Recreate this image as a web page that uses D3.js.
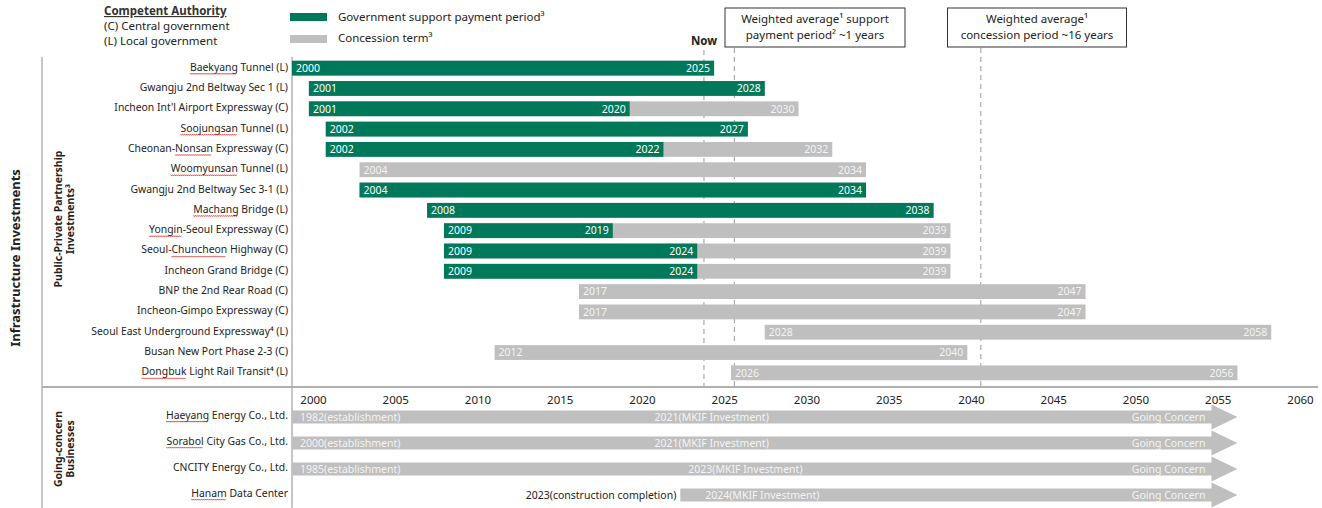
<!DOCTYPE html>
<html><head><meta charset="utf-8">
<script src="https://cdn.jsdelivr.net/npm/d3@7"></script>
<style>
html,body{margin:0;padding:0;background:#fff;}
svg{display:block;font-family:"Noto Sans",sans-serif;}
</style></head><body>
<svg id="chart" width="1322" height="508"></svg>
<script>
// ---------- data ----------
const projects = ["Baekyang Tunnel (L)", "Gwangju 2nd Beltway Sec 1 (L)", "Incheon Int'l Airport Expressway (C)",
  "Soojungsan Tunnel (L)", "Cheonan-Nonsan Expressway (C)", "Woomyunsan Tunnel (L)",
  "Gwangju 2nd Beltway Sec 3-1 (L)", "Machang Bridge (L)", "Yongin-Seoul Expressway (C)",
  "Seoul-Chuncheon Highway (C)", "Incheon Grand Bridge (C)", "BNP the 2nd Rear Road (C)",
  "Incheon-Gimpo Expressway (C)", "Seoul East Underground Expressway\u2074 (L)",
  "Busan New Port Phase 2-3 (C)", "Dongbuk Light Rail Transit\u2074 (L)"];
const startYears    = [2000, 2001, 2001, 2002, 2002, 2004, 2004, 2008, 2009, 2009, 2009, 2017, 2017, 2028, 2012, 2026];
const supportEnd    = [2025, 2028, 2020, 2027, 2022, null, 2034, 2038, 2019, 2024, 2024, null, null, null, null, null];
const concessionEnd = [2025, 2028, 2030, 2027, 2032, 2034, 2034, 2038, 2039, 2039, 2039, 2047, 2047, 2058, 2040, 2056];

const gcNames = ["Haeyang Energy Co., Ltd.", "Sorabol City Gas Co., Ltd.", "CNCITY Energy Co., Ltd.", "Hanam Data Center"];
const gcStart = [1982, 2000, 1985, 2023];
const gcStartLabels = ["1982(establishment)", "2000(establishment)", "1985(establishment)", "2023(construction completion)"];
const gcInvest = [2021, 2021, 2023, 2024];
const gcEnd = 2056;
const gcEndLabel = "Going Concern";

const tickYears = [2000, 2005, 2010, 2015, 2020, 2025, 2030, 2035, 2040, 2045, 2050, 2055, 2060];
const markerYears = [2024.4, 2026.2, 2040.8];   // Now, avg support period end, avg concession end

const spellWords = ["Baekyang", "Soojungsan", "Nonsan", "Woomyunsan", "Machang", "Yongin", "Chuncheon", "Dongbuk", "Haeyang", "Sorabol", "Hanam"];

// ---------- styles ----------
const GREEN = "#00785a", GREY = "#bfbfbf", TXT = "#222";

const svg = d3.select("#chart");

// scales
const x = d3.scaleLinear().domain([2000, 2060]).range([292, 1305]).clamp(true);
const xTick = d3.scaleLinear().domain([2000, 2060]).range([313, 1300]);
const y = d3.scaleBand().domain(projects).range([58, 383]).paddingInner(0.27).paddingOuter(0.135);
const yg = d3.scaleBand().domain(gcNames).range([404, 508]).paddingInner(0.5).paddingOuter(0.25);

// ---------- frame lines ----------
svg.append("line").attr("x1", 42).attr("x2", 42).attr("y1", 57).attr("y2", 508).attr("stroke", "#8c8c8c").attr("stroke-width", 1);
svg.append("line").attr("x1", 292).attr("x2", 292).attr("y1", 57).attr("y2", 508).attr("stroke", "#8c8c8c").attr("stroke-width", 1);
svg.append("line").attr("x1", 42).attr("x2", 1318).attr("y1", 387).attr("y2", 387).attr("stroke", "#b0b0b0").attr("stroke-width", 2);

// ---------- marker dashed lines ----------
svg.selectAll("line.marker").data(markerYears).join("line").attr("class", "marker")
  .attr("x1", d => x(d)).attr("x2", d => x(d))
  .attr("y1", (d, i) => i === 0 ? 50 : 48).attr("y2", 386)
  .attr("stroke", "#9a9a9a").attr("stroke-width", 1).attr("stroke-dasharray", "5,4");

svg.append("text").attr("x", x(markerYears[0])).attr("y", 45).attr("text-anchor", "middle")
  .attr("font-size", 11.5).attr("font-weight", 700).attr("fill", TXT).text("Now");

// annotation boxes
const boxes = [
  {cx: 815, lines: ["Weighted average\u00b9 support", "payment period\u00b2 ~1 years"], w: 180},
  {cx: 1037, lines: ["Weighted average\u00b9", "concession period ~16 years"], w: 179}
];
boxes.forEach(b => {
  svg.append("rect").attr("x", b.cx - b.w / 2).attr("y", 8).attr("width", b.w).attr("height", 39)
    .attr("fill", "#fff").attr("stroke", "#333").attr("stroke-width", 1);
  b.lines.forEach((l, i) => svg.append("text").attr("x", b.cx).attr("y", 23 + i * 15.5)
    .attr("text-anchor", "middle").attr("font-size", 11.5).attr("fill", TXT).text(l));
});

// ---------- legend ----------
svg.append("text").attr("x", 104).attr("y", 15).attr("font-size", 11.5).attr("font-weight", 700)
  .attr("fill", "#333").attr("text-decoration", "underline").text("Competent Authority");
svg.append("text").attr("x", 104).attr("y", 30).attr("font-size", 11.5).attr("fill", TXT).text("(C) Central government");
svg.append("text").attr("x", 104).attr("y", 45).attr("font-size", 11.5).attr("fill", TXT).text("(L) Local government");

svg.append("rect").attr("x", 290).attr("y", 13).attr("width", 37).attr("height", 8).attr("fill", GREEN);
svg.append("rect").attr("x", 290).attr("y", 35).attr("width", 37).attr("height", 8).attr("fill", GREY);
svg.append("text").attr("x", 338).attr("y", 21).attr("font-size", 11.5).attr("fill", TXT).text("Government support payment period\u00b3");
svg.append("text").attr("x", 338).attr("y", 42).attr("font-size", 11.5).attr("fill", TXT).text("Concession term\u00b3");

// ---------- section titles ----------
svg.append("text").attr("transform", "translate(20,258) rotate(-90)").attr("text-anchor", "middle")
  .attr("font-size", 13).attr("font-weight", 700).attr("fill", TXT).text("Infrastructure Investments");
svg.append("text").attr("transform", "translate(62,219) rotate(-90)").attr("text-anchor", "middle")
  .attr("font-size", 10.5).attr("font-weight", 700).attr("fill", TXT).text("Public-Private Partnership");
svg.append("text").attr("transform", "translate(74,219) rotate(-90)").attr("text-anchor", "middle")
  .attr("font-size", 10.5).attr("font-weight", 700).attr("fill", TXT).text("Investments\u00b3");
svg.append("text").attr("transform", "translate(62,449) rotate(-90)").attr("text-anchor", "middle")
  .attr("font-size", 10.5).attr("font-weight", 700).attr("fill", TXT).text("Going-concern");
svg.append("text").attr("transform", "translate(74,449) rotate(-90)").attr("text-anchor", "middle")
  .attr("font-size", 10.5).attr("font-weight", 700).attr("fill", TXT).text("Businesses");

// ---------- PPP rows ----------
const rows = projects.map((p, i) => ({name: p, s: startYears[i], se: supportEnd[i], ce: concessionEnd[i]}));
const gRows = svg.append("g");
const row = gRows.selectAll("g.row").data(rows).join("g").attr("class", "row");

row.append("rect").attr("x", d => x(d.s)).attr("y", d => y(d.name))
  .attr("width", d => x(d.ce) - x(d.s)).attr("height", y.bandwidth()).attr("fill", GREY);
row.filter(d => d.se !== null).append("rect").attr("x", d => x(d.s)).attr("y", d => y(d.name))
  .attr("width", d => x(d.se) - x(d.s)).attr("height", y.bandwidth()).attr("fill", GREEN);

const mid = d => y(d.name) + y.bandwidth() / 2 + 3.8;
row.append("text").attr("x", d => x(d.s) + 4).attr("y", mid).attr("font-size", 10.5)
  .attr("fill", d => d.se !== null ? "#fff" : "#f4f4f4").text(d => d.s);
row.filter(d => d.se !== null).append("text").attr("x", d => x(d.se) - 4).attr("y", mid)
  .attr("text-anchor", "end").attr("font-size", 10.5).attr("fill", "#fff").text(d => d.se);
row.filter(d => d.se === null || d.ce > d.se).append("text").attr("x", d => x(d.ce) - 4).attr("y", mid)
  .attr("text-anchor", "end").attr("font-size", 10.5).attr("fill", "#f4f4f4").text(d => d.ce);

const labels = [];
row.append("text").attr("x", 288).attr("y", d => y(d.name) + y.bandwidth() / 2 + 2.5)
  .attr("text-anchor", "end").attr("font-size", 10.4).attr("fill", TXT).text(d => d.name)
  .each(function () { labels.push(this); });

// ---------- tick axis ----------
const axis = d3.axisBottom(xTick).tickValues(tickYears).tickFormat(d3.format("d")).tickSize(0).tickPadding(3);
const ga = svg.append("g").attr("transform", "translate(0,393)").call(axis);
ga.select(".domain").remove();
ga.selectAll("text").attr("font-size", 11.5).attr("fill", TXT).attr("font-family", "Noto Sans");

// ---------- going concern ----------
const gc = gcNames.map((n, i) => ({name: n, s: gcStart[i], sl: gcStartLabels[i], inv: gcInvest[i]}));
const grow = svg.append("g").selectAll("g").data(gc).join("g");
const headLen = 26, headHalf = 12.5;
grow.append("path").attr("fill", GREY).attr("d", d => {
  const x0 = x(d.s), x1 = x(gcEnd) - headLen, xt = x(gcEnd);
  const t = yg(d.name), b = t + yg.bandwidth(), c = t + yg.bandwidth() / 2;
  return `M${x0},${t}H${x1}V${c - headHalf}L${xt},${c}L${x1},${c + headHalf}V${b}H${x0}Z`;
});
const gmid = d => yg(d.name) + yg.bandwidth() / 2 + 3.6;
grow.append("text").attr("font-size", 10.5)
  .attr("x", d => d.s > 2000 ? x(d.s) - 4 : x(d.s) + 8)
  .attr("text-anchor", d => d.s > 2000 ? "end" : "start")
  .attr("fill", d => d.s > 2000 ? TXT : "#f4f4f4")
  .attr("y", gmid).text(d => d.sl);
grow.append("text").attr("font-size", 10.5).attr("x", d => x(d.inv) + 8).attr("y", gmid)
  .attr("fill", "#f4f4f4").text(d => `${d.inv}(MKIF Investment)`);
grow.append("text").attr("font-size", 10.5).attr("x", x(gcEnd) - headLen - 6).attr("y", gmid)
  .attr("text-anchor", "end").attr("fill", "#f4f4f4").text(gcEndLabel);
grow.append("text").attr("x", 288).attr("y", d => yg(d.name) + yg.bandwidth() / 2 + 1.5)
  .attr("text-anchor", "end").attr("font-size", 10.4).attr("fill", TXT).text(d => d.name)
  .each(function () { labels.push(this); });

// ---------- spell-check squiggles (as in the screenshot) ----------
const sq = svg.append("g").attr("fill", "none").attr("stroke", "#e0302a").attr("stroke-width", 0.8);
labels.forEach(node => {
  const s = node.textContent;
  spellWords.forEach(w => {
    const i = s.indexOf(w);
    if (i < 0) return;
    const p = node.getStartPositionOfChar(i);
    const len = node.getSubStringLength(i, w.length);
    const yy = p.y + 2.5;
    let dd = `M${p.x},${yy}`;
    for (let k = 0; k + 2 <= len; k += 2) dd += `l1,1.2l1,-1.2`;
    sq.append("path").attr("d", dd);
  });
});
</script>
</body></html>
